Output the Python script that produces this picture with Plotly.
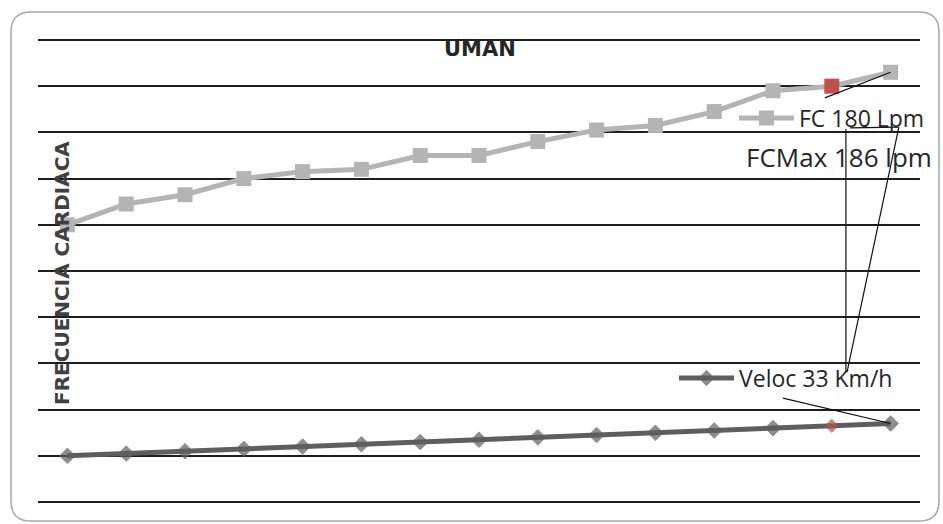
import plotly.graph_objects as go

# ---- data ----
puntos = list(range(1, 16))
fc_lpm = [120, 129, 133, 140, 143, 144, 150, 150, 156, 161, 163, 169, 178, 180, 186]
veloc_kmh = [20, 21, 22, 23, 24, 25, 26, 27, 28, 29, 30, 31, 32, 33, 34]
destacado = 13  # index of highlighted point (FC 180 / 33 km/h)

titulo = "UMAN"
eje_y = "FRECUENCIA CARDIACA"
nombre_fc = "FC 180 Lpm"
nombre_veloc = "Veloc 33 Km/h"
nota_max = "FCMax 186 lpm"

FONT = "Open Sans"
GRAY_FC = "#B4B4B4"
GRAY_V = "#5E5E5E"
RED = "#C0504D"

fc_colors = [RED if i == destacado else GRAY_FC for i in range(len(puntos))]
v_colors = [RED if i == destacado else GRAY_V for i in range(len(puntos))]
v_sizes = [10 if i == destacado else 12 for i in range(len(puntos))]

fig = go.Figure()
fig.add_trace(go.Scatter(
    x=puntos, y=fc_lpm, name=nombre_fc, mode="lines+markers",
    line=dict(color=GRAY_FC, width=5),
    marker=dict(symbol="square", size=15, color=fc_colors),
    legend="legend", showlegend=True,
))
fig.add_trace(go.Scatter(
    x=puntos, y=veloc_kmh, name=nombre_veloc, mode="lines+markers",
    line=dict(color=GRAY_V, width=5),
    marker=dict(symbol="diamond", size=v_sizes, color=v_colors),
    legend="legend2", showlegend=True,
))

W, H = 943, 524
pad = 3  # y-range padding so edge gridlines are drawn
L, R = 38, 23
T, B = 40 - pad * 2.31, 22 - pad * 2.31
pw, ph = W - L - R, H - T - B


def px(xp):
    return (xp - L) / pw


def py(yp):
    return (H - B - yp) / ph


# rounded outer border in paper coords
x0, x1, y0, y1 = px(11), px(939), py(12), py(521)
rx, ry = 20 / pw, 20 / ph
border = (f"M{x0+rx},{y0} L{x1-rx},{y0} Q{x1},{y0} {x1},{y0-ry} "
          f"L{x1},{y1+ry} Q{x1},{y1} {x1-rx},{y1} L{x0+rx},{y1} "
          f"Q{x0},{y1} {x0},{y1+ry} L{x0},{y0-ry} Q{x0},{y0} {x0+rx},{y0} Z")

shapes = [dict(type="path", path=border, xref="paper", yref="paper",
               line=dict(color="#A8A8A8", width=1.5), layer="below")]

lead = dict(color="#111111", width=1.2)
last = len(puntos) - 1
# leader lines
shapes += [
    dict(type="line", xref="x", yref="y", x0=13.88, y0=174.9,
         x1=puntos[last], y1=fc_lpm[last], line=lead),
    dict(type="line", xref="x", yref="y", x0=14.31, y0=161.9, x1=15.13, y1=162.3, line=lead),
    dict(type="line", xref="x", yref="y", x0=14.24, y0=161.5, x1=14.24, y1=56.3, line=lead),
    dict(type="line", xref="x", yref="y", x0=15.14, y0=162.3, x1=14.26, y1=56.3, line=lead),
    dict(type="line", xref="x", yref="y", x0=13.17, y0=45.0,
         x1=puntos[last], y1=veloc_kmh[last], line=lead),
]

fig.update_layout(
    width=W, height=H,
    margin=dict(l=L, r=R, t=T, b=B, pad=0),
    showlegend=True,
    paper_bgcolor="white", plot_bgcolor="white",
    font=dict(family=FONT, color="#262626"),
    xaxis=dict(range=[0.5, 15.5], showgrid=False, showticklabels=False,
               zeroline=False, showline=False, ticks=""),
    yaxis=dict(range=[-pad, 200 + pad], tickmode="array",
               tickvals=list(range(0, 201, 20)), showgrid=True,
               gridcolor="#1E1E1E", gridwidth=1.5, showticklabels=False,
               zeroline=True, zerolinecolor="#1E1E1E", zerolinewidth=1.5,
               showline=False, ticks=""),
    legend=dict(x=px(734), y=py(118), xanchor="left", yanchor="middle",
                bgcolor="rgba(0,0,0,0)", itemwidth=55, visible=True,
                font=dict(family=FONT, size=23, color="#262626")),
    legend2=dict(x=px(674), y=py(378), xanchor="left", yanchor="middle",
                 bgcolor="rgba(0,0,0,0)", itemwidth=55, visible=True,
                 font=dict(family=FONT, size=23, color="#262626")),
    shapes=shapes,
    annotations=[
        dict(text=f"<b>{titulo}</b>", xref="paper", yref="paper", x=px(480), y=py(49),
             xanchor="center", yanchor="middle", showarrow=False,
             font=dict(family="DejaVu Sans", size=21, color="#262626")),
        dict(text=f"<b>{eje_y}</b>", xref="paper", yref="paper", x=px(62), y=py(273),
             xanchor="center", yanchor="middle", textangle=-90, showarrow=False,
             font=dict(family="DejaVu Sans", size=20, color="#404040")),
        dict(text=nota_max, xref="paper", yref="paper", x=px(839), y=py(157),
             xanchor="center", yanchor="middle", showarrow=False,
             font=dict(family=FONT, size=26, color="#262626")),
    ],
)

fig.write_html("out.html")
